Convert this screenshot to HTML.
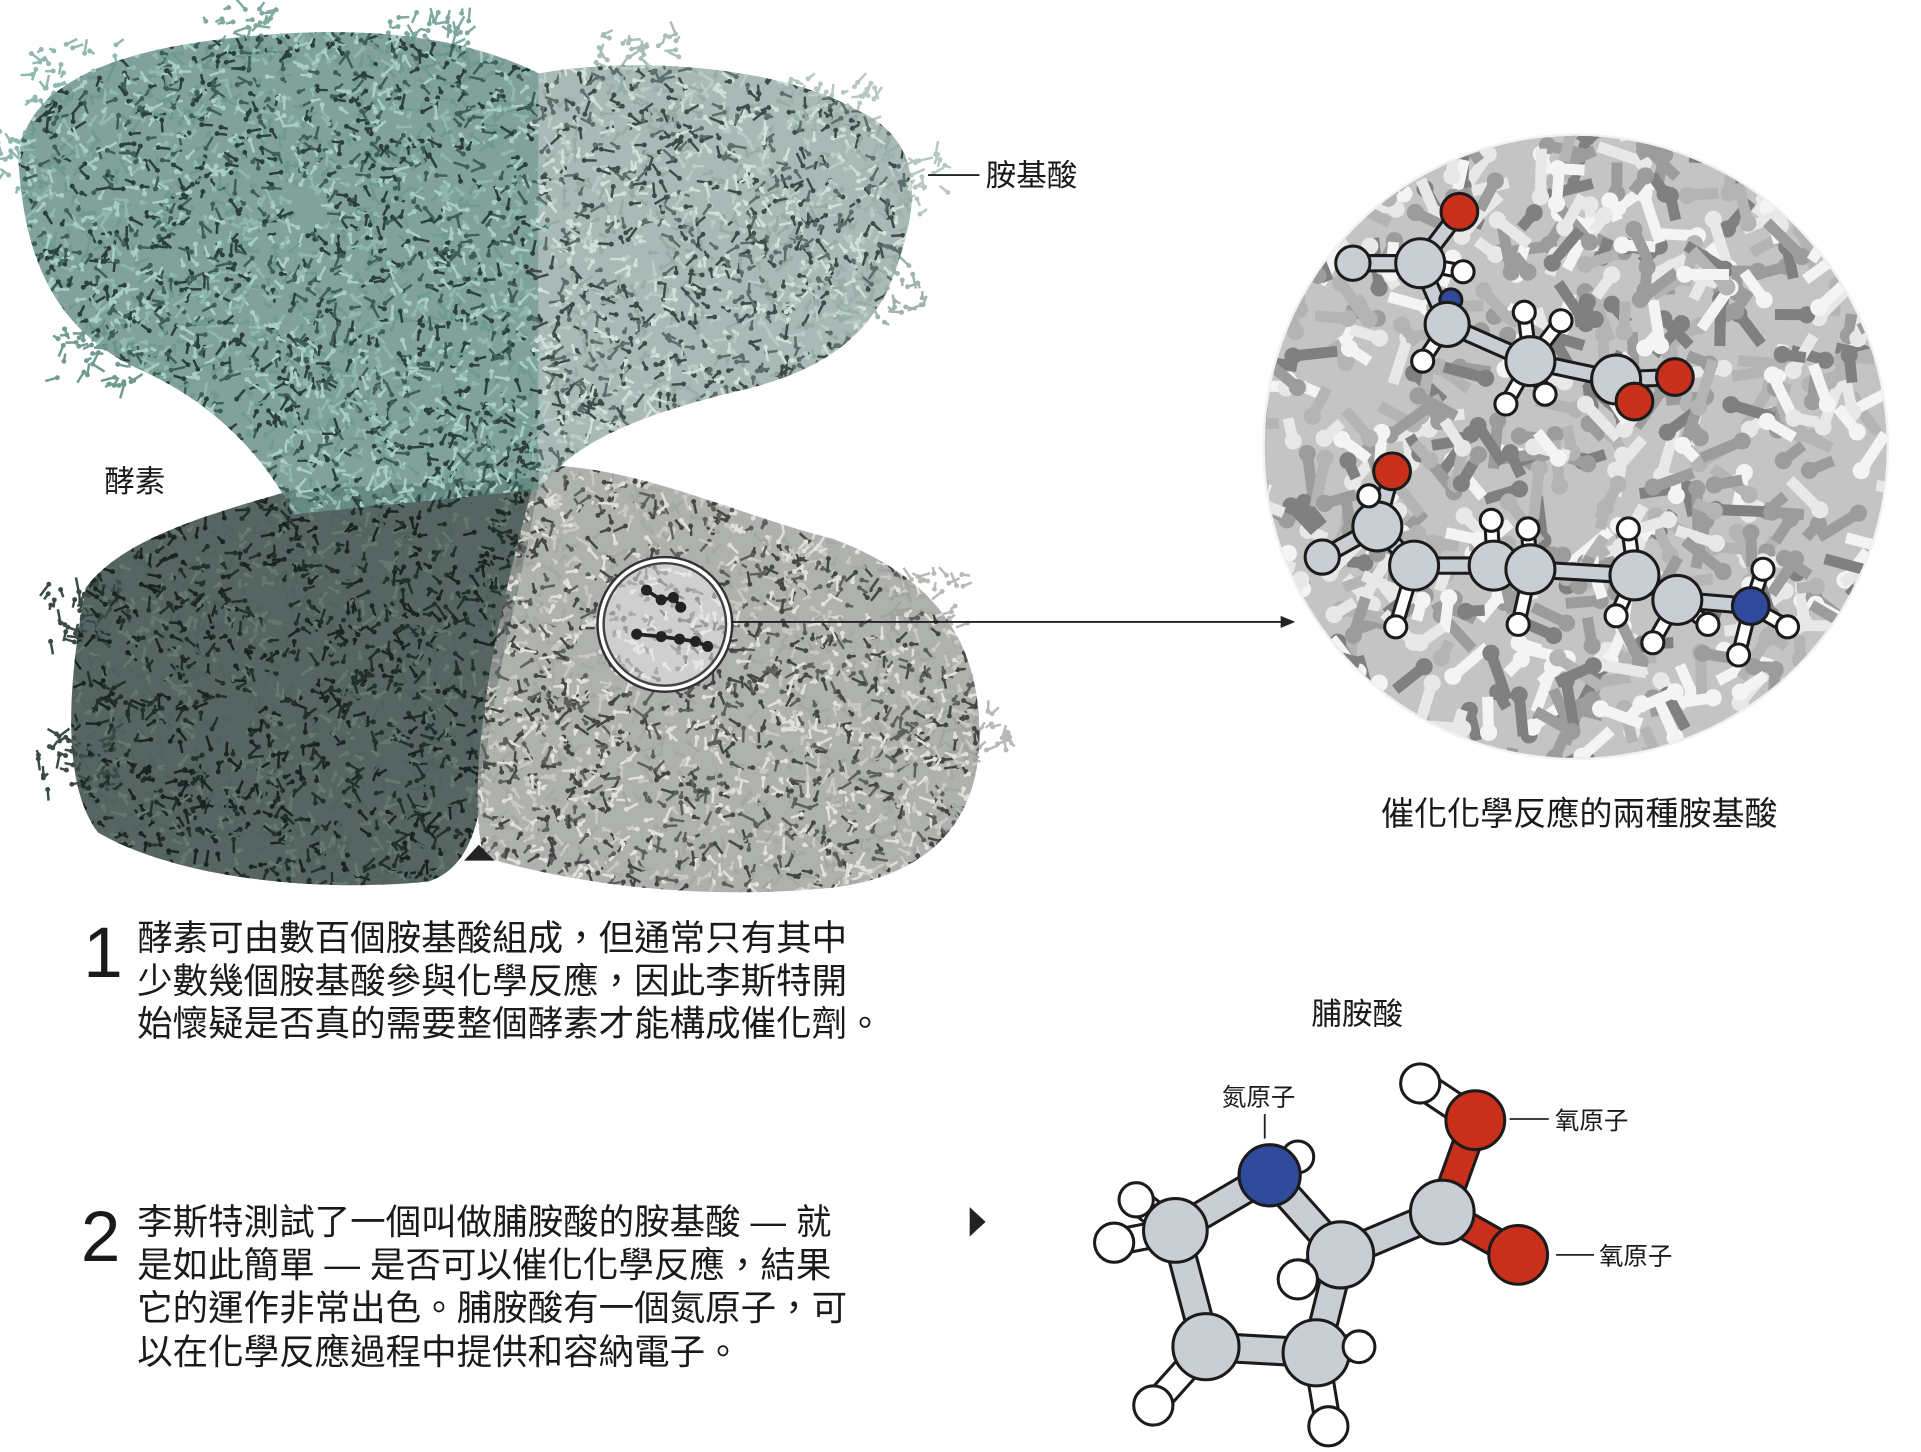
<!DOCTYPE html>
<html><head><meta charset="utf-8">
<style>
html,body{margin:0;padding:0;background:#fff;}
svg{display:block;}
text{font-family:"Liberation Sans","Noto Sans CJK TC",sans-serif;fill:#1a1a1a;}
</style></head>
<body>
<svg id="s" width="1921" height="1452" viewBox="0 0 1569 1186" xmlns="http://www.w3.org/2000/svg">
<defs>
<clipPath id="cTop"><path d="M15,130 C20,70 90,40 200,30 C300,20 380,30 440,60 C520,45 640,55 700,90 C745,110 755,150 735,210 C720,260 690,300 600,320 C520,340 470,360 440,400 L240,420 C220,380 180,330 110,300 C50,270 20,220 15,130Z"/></clipPath>
<clipPath id="cBL"><path d="M70,480 C100,440 170,420 240,400 L440,390 C430,470 400,560 395,640 C390,680 380,710 350,720 C250,730 140,715 80,680 C50,640 55,560 70,480Z"/></clipPath>
<clipPath id="cBR"><path d="M440,380 C520,380 600,420 680,440 C760,470 800,520 800,600 C800,670 760,715 680,725 C580,735 480,725 395,700 C380,640 400,520 440,380Z"/></clipPath>
<clipPath id="cBig"><circle cx="1287" cy="365" r="254"/></clipPath>
<clipPath id="cSm"><circle cx="543" cy="510" r="50"/></clipPath>
</defs>

<g id="fringe"></g>
<g clip-path="url(#cBL)"><rect x="0" y="350" width="500" height="400" fill="#3a4a47" opacity="0.85"/><g id="tBL"></g></g>
<g clip-path="url(#cBR)"><rect x="380" y="350" width="430" height="400" fill="#9a9d9a" opacity="0.8"/><g id="tBR"></g></g>
<g clip-path="url(#cTop)"><rect x="0" y="0" width="440" height="430" fill="#6a9289" opacity="0.85"/><rect x="440" y="0" width="330" height="430" fill="#9aaea9" opacity="0.85"/><g id="tTop"></g></g>

<circle cx="543" cy="510" r="55" fill="#fff" stroke="#333" stroke-width="2"/>
<circle cx="543" cy="510" r="50" fill="#cfcfcf"/>
<g clip-path="url(#cSm)"><g id="tSm"></g></g>
<circle cx="543" cy="510" r="50" fill="none" stroke="#444" stroke-width="2"/>
<g stroke="#222" stroke-width="3" fill="#222">
<path d="M528,482 L540,490 L550,488 L556,496" fill="none"/>
<circle cx="528" cy="482" r="3"/><circle cx="540" cy="490" r="3"/><circle cx="550" cy="488" r="3"/><circle cx="556" cy="496" r="3"/>
<path d="M520,518 L540,520 L555,522 L568,524 L578,528" fill="none"/>
<circle cx="520" cy="518" r="3"/><circle cx="540" cy="520" r="3"/><circle cx="555" cy="522" r="3"/><circle cx="568" cy="524" r="3"/><circle cx="578" cy="528" r="3"/>
</g>
<line x1="598" y1="508" x2="1050" y2="508" stroke="#222" stroke-width="1.5"/>
<path d="M1058,508 L1046,503 L1046,513Z" fill="#222"/>

<circle cx="1287" cy="365" r="256" fill="#f1f3f3"/>
<circle cx="1287" cy="365" r="254" fill="#c4c4c4"/>
<g clip-path="url(#cBig)"><g id="tBig"></g></g>
<g id="chains"></g>

<line x1="758" y1="143" x2="800" y2="143" stroke="#222" stroke-width="1.5"/>
<text x="805" y="152" font-size="25">胺基酸</text>
<text x="85" y="402" font-size="25">酵素</text>
<path d="M379,703 L404,703 L391,690Z" fill="#222"/>
<text x="1128" y="674" font-size="27">催化化學反應的兩種胺基酸</text>

<text x="68" y="798" font-size="58">1</text>
<g font-size="29">
<text x="112" y="776">酵素可由數百個胺基酸組成，但通常只有其中</text>
<text x="112" y="811">少數幾個胺基酸參與化學反應，因此李斯特開</text>
<text x="112" y="846">始懷疑是否真的需要整個酵素才能構成催化劑。</text>
</g>
<text x="66" y="1030" font-size="58">2</text>
<g font-size="29">
<text x="112" y="1008">李斯特測試了一個叫做脯胺酸的胺基酸 — 就</text>
<text x="112" y="1043">是如此簡單 — 是否可以催化化學反應，結果</text>
<text x="112" y="1078">它的運作非常出色。脯胺酸有一個氮原子，可</text>
<text x="112" y="1114">以在化學反應過程中提供和容納電子。</text>
</g>
<path d="M792,986 L792,1010 L805,998Z" fill="#222"/>
<text x="1071" y="837" font-size="25">脯胺酸</text>
<text x="998" y="903" font-size="20">氮原子</text>
<line x1="1033" y1="910" x2="1033" y2="930" stroke="#222" stroke-width="1.5"/>
<line x1="1233" y1="914" x2="1265" y2="914" stroke="#222" stroke-width="1.5"/>
<text x="1270" y="922" font-size="20">氧原子</text>
<line x1="1271" y1="1025" x2="1302" y2="1025" stroke="#222" stroke-width="1.5"/>
<text x="1306" y="1033" font-size="20">氧原子</text>

<g id="pro"></g>
</svg>
<script>
var seed=7;function r(){seed=(seed*16807)%2147483647;return (seed-1)/2147483646;}
var NS="http://www.w3.org/2000/svg";
function el(p,t,a){var e=document.createElementNS(NS,t);for(var k in a)e.setAttribute(k,a[k]);p.appendChild(e);return e;}
function tex(id,x0,y0,w,h,n,cols,len,sw,rad){var g=document.getElementById(id);
for(var i=0;i<n;i++){var x=x0+r()*w,y=y0+r()*h,c=cols[Math.floor(r()*cols.length)];
var a=r()*6.283,L=len*(0.5+r());var x2=x+Math.cos(a)*L,y2=y+Math.sin(a)*L;
el(g,"line",{x1:x,y1:y,x2:x2,y2:y2,stroke:c,"stroke-width":sw});
el(g,"circle",{cx:x2,cy:y2,r:rad,fill:c});}}
tex("tTop",0,0,440,430,3500,["#8fb8ae","#a9cfc4","#3e5e57","#6f9a90","#2c3f3b"],8,2,2);
tex("tTop",440,0,330,430,2600,["#b9ccc7","#d2dfdb","#5c6e6a","#98aca7","#3f4b49"],8,2,2);
tex("tBL",0,350,500,400,3200,["#22302d","#4f625e","#1a2422","#65786f"],8,2,2);
tex("tBR",380,350,430,400,3000,["#c8c8c4","#e0e0dc","#5e605e","#a6a8a5","#454745"],8,2,2);
tex("tSm",490,458,106,106,150,["#aaa","#e6e6e6","#999"],6,2,2);
tex("tBig",1030,110,515,515,650,["#9c9c9c","#e8e8e8","#b4b4b4","#f4f4f4","#808080"],28,9,7);
(function(){var g=document.getElementById("fringe");
var pts=[[20,130,"#8fb8ae"],[60,60,"#8fb8ae"],[200,30,"#7fa89e"],[350,35,"#7fa89e"],[520,50,"#a9bdb8"],[680,85,"#b5c7c2"],[740,150,"#b5c7c2"],[720,240,"#9fb2ad"],[80,290,"#6f9a90"],[70,500,"#3a4a47"],[60,620,"#3a4a47"],[790,600,"#b8b8b4"],[760,490,"#b8b8b4"]];
pts.forEach(function(p){for(var i=0;i<40;i++){var x=p[0]+(r()-0.5)*70,y=p[1]+(r()-0.5)*50;var a=r()*6.283,L=8*(0.5+r());
el(g,"line",{x1:x,y1:y,x2:x+Math.cos(a)*L,y2:y+Math.sin(a)*L,stroke:p[2],"stroke-width":2});el(g,"circle",{cx:x,cy:y,r:2,fill:p[2]});}});})();
function atom(g,x,y,R,f){el(g,"circle",{cx:x,cy:y,r:R,fill:f,stroke:"#1b1b1b","stroke-width":2.5});}
function bond(g,a,b,w,f){el(g,"line",{x1:a[0],y1:a[1],x2:b[0],y2:b[1],stroke:"#1b1b1b","stroke-width":w+5,"stroke-linecap":"round"});
el(g,"line",{x1:a[0],y1:a[1],x2:b[0],y2:b[1],stroke:f,"stroke-width":w,"stroke-linecap":"round"});}
var G="#c8ced4",W="#fff",RD="#c9301c",BL="#2f4a9a";
var ch=document.getElementById("chains");
var c1=[[1105,215,G,14],[1160,215,G,20],[1192,173,RD,15],[1185,245,BL,9],[1182,265,G,18],[1250,295,G,20],[1320,310,G,20],[1368,308,RD,15],[1335,328,RD,15]];
bond(ch,[1105,215],[1160,215],10,G);bond(ch,[1160,215],[1192,173],10,G);bond(ch,[1160,215],[1182,265],10,G);bond(ch,[1182,265],[1250,295],10,G);bond(ch,[1250,295],[1320,310],10,G);bond(ch,[1320,310],[1368,308],10,G);bond(ch,[1320,310],[1335,328],10,G);
var h1=[[1195,222,1160,215],[1162,295,1182,265],[1245,255,1250,295],[1275,262,1250,295],[1230,330,1250,295],[1262,322,1250,295]];
h1.forEach(function(h){bond(ch,[h[0],h[1]],[h[2],h[3]],8,W);});
c1.forEach(function(a){atom(ch,a[0],a[1],a[3],a[2]);});
h1.forEach(function(h){atom(ch,h[0],h[1],9,W);});
var c2=[[1080,455,G,14],[1125,430,G,20],[1137,385,RD,15],[1155,462,G,20],[1220,462,G,20],[1250,465,G,20],[1335,470,G,20],[1370,490,G,20],[1430,495,BL,15]];
bond(ch,c2[0],c2[1],10,G);bond(ch,c2[1],c2[2],10,G);bond(ch,c2[1],c2[3],10,G);
for(var i=3;i<c2.length-1;i++){bond(ch,c2[i],c2[i+1],10,G);}
var h2=[[1140,512,3],[1118,405,1],[1218,425,4],[1240,510,5],[1248,432,5],[1330,432,6],[1320,503,6],[1350,525,7],[1395,510,7],[1440,465,8],[1460,512,8],[1420,535,8]];
h2.forEach(function(h){bond(ch,[h[0],h[1]],c2[h[2]],8,W);});
c2.forEach(function(a){atom(ch,a[0],a[1],a[3],a[2]);});
h2.forEach(function(h){atom(ch,h[0],h[1],9,W);});
var p=document.getElementById("pro");
var N=[1037,960],C1=[1095,1025],C2=[1075,1105],C3=[985,1100],C4=[960,1005],CC=[1178,990],O1=[1205,915],O2=[1240,1025],HO=[1160,885];
var Hs=[[1060,945,N],[928,980,C4],[910,1015,C4],[942,1148,C3],[1085,1165,C2],[1110,1100,C2],[1060,1045,C1]];
bond(p,N,C4,20,G);bond(p,N,C1,20,G);bond(p,C1,C2,20,G);bond(p,C2,C3,20,G);bond(p,C3,C4,20,G);bond(p,C1,CC,20,G);bond(p,CC,O1,20,RD);bond(p,CC,O2,20,RD);bond(p,O1,HO,20,W);
Hs.forEach(function(h){bond(p,[h[0],h[1]],h[2],18,W);});
atom(p,1060,945,13,W);atom(p,928,980,14,W);
atom(p,N[0],N[1],25,BL);atom(p,C4[0],C4[1],26,G);atom(p,C1[0],C1[1],27,G);atom(p,C2[0],C2[1],27,G);atom(p,C3[0],C3[1],27,G);atom(p,CC[0],CC[1],26,G);atom(p,O1[0],O1[1],24,RD);atom(p,O2[0],O2[1],24,RD);atom(p,HO[0],HO[1],16,W);
atom(p,910,1015,16,W);atom(p,942,1148,16,W);atom(p,1085,1165,16,W);atom(p,1110,1100,13,W);atom(p,1060,1045,16,W);
</script>
</body></html>
